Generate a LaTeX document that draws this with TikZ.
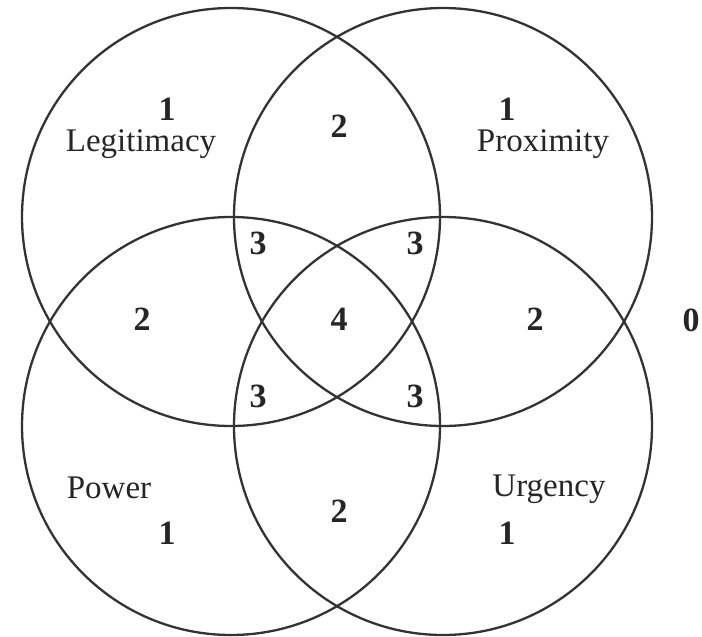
\documentclass[tikz,border=0pt]{standalone}
\usepackage{fontspec}
\setmainfont{Liberation Serif}
\begin{document}
\begin{tikzpicture}[x=1pt,y=-1pt,
  ring/.style={draw=black!80,line width=2.3pt},
  lbl/.style={font=\fontsize{33}{33}\selectfont,inner sep=0pt,text=black!85},
  num/.style={font=\fontsize{34}{34}\selectfont\bfseries,inner sep=0pt,text=black!85}]
\useasboundingbox (0,0) rectangle (702,637);
\node[ring,circle,minimum size=418pt,inner sep=0pt] (cl) at (231,217) {};
\node[ring,circle,minimum size=418pt,inner sep=0pt] (cp) at (443,217) {};
\node[ring,circle,minimum size=418pt,inner sep=0pt] (cw) at (231,426) {};
\node[ring,circle,minimum size=418pt,inner sep=0pt] (cu) at (443,426) {};
\node[num] (n1a) at (167,109) {1};
\node[lbl] (tl) at (141,144) {Legitimacy};
\node[num] (n2a) at (339,126) {2};
\node[num] (n1b) at (507,109) {1};
\node[lbl] (tp) at (543,144) {Proximity};
\node[num] (n3a) at (258,243) {3};
\node[num] (n3b) at (415,243) {3};
\node[num] (n2b) at (142,319) {2};
\node[num] (n4) at (339,319) {4};
\node[num] (n2c) at (535,319) {2};
\node[num] (n0) at (691,320) {0};
\node[num] (n3c) at (258,396) {3};
\node[num] (n3d) at (415,396) {3};
\node[lbl] (tw) at (109,488) {Power};
\node[num] (n2d) at (339,511) {2};
\node[lbl] (tu) at (549,489) {Urgency};
\node[num] (n1c) at (167,533) {1};
\node[num] (n1d) at (507,533) {1};
\end{tikzpicture}
\end{document}
